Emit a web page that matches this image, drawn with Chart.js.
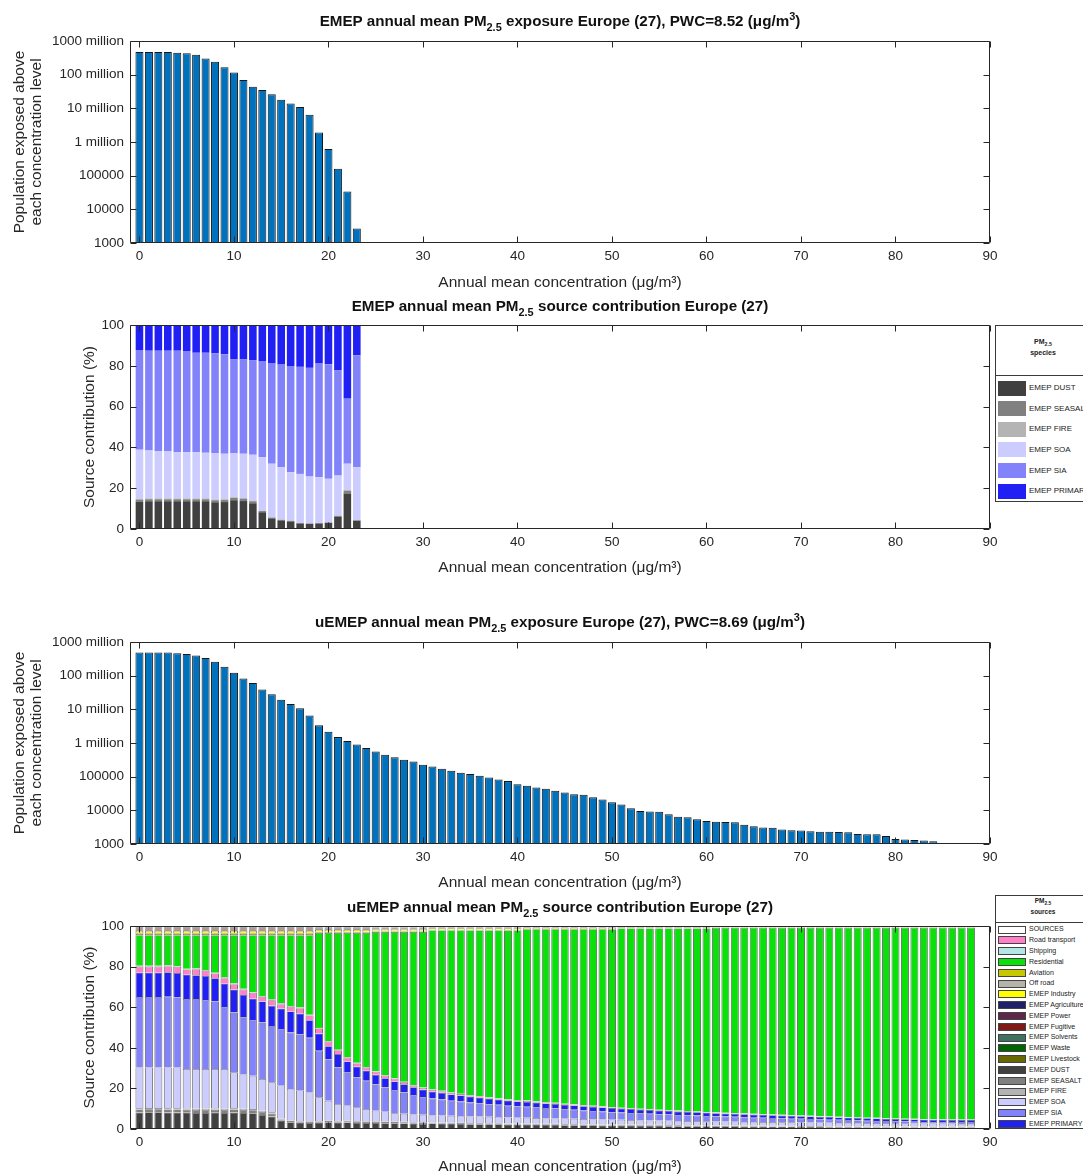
<!DOCTYPE html>
<html>
<head>
<meta charset="utf-8">
<script src="https://cdn.jsdelivr.net/npm/chart.js@4.4.0/dist/chart.umd.min.js"></script>
<style>
body { margin: 0; background: #fff; }
#page { position: relative; width: 1083px; height: 1175px; overflow: hidden; background: #fff;
        font-family: "Liberation Sans", Arial, Helvetica, sans-serif; color: #000; }
#page canvas { position: absolute; left: 0; }
.ttl { position: absolute; left: 130px; width: 860px; text-align: center; font-weight: bold;
       font-size: 15.2px; line-height: 18px; white-space: nowrap; color: #111; }
.ttl sub { font-size: 72%; vertical-align: -0.5em; line-height: 0; }
.ttl sup { font-size: 72%; vertical-align: 0.55em; line-height: 0; }
.lg { position: absolute; left: 995px; width: 96px; border: 1px solid #3a3a3a; background: #fff; box-sizing: border-box; }
.lg .hd { position: absolute; left: 0; width: 100%; text-align: center; font-weight: bold; color: #222; white-space: nowrap; }
.lg .hd sub { font-size: 75%; vertical-align: -0.4em; line-height: 0; }
.lg .dv { position: absolute; left: 0; width: 100%; border-top: 1px solid #3a3a3a; }
.lg .sw { position: absolute; left: 2px; width: 28px; box-sizing: border-box; }
.lg .tx { position: absolute; left: 33px; white-space: nowrap; color: #222; }
</style>
</head>
<body>
<div id="page">
  <canvas id="cA" width="1083" height="300" style="top:0px"></canvas>
  <canvas id="cB" width="1083" height="285" style="top:300px"></canvas>
  <canvas id="cC" width="1083" height="315" style="top:585px"></canvas>
  <canvas id="cD" width="1083" height="285" style="top:900px"></canvas>
  <div class="ttl" style="top:12px">EMEP annual mean PM<sub>2.5</sub> exposure Europe (27), PWC=8.52 (μg/m<sup>3</sup>)</div>
  <div class="ttl" style="top:297px">EMEP annual mean PM<sub>2.5</sub> source contribution Europe (27)</div>
  <div class="ttl" style="top:613px">uEMEP annual mean PM<sub>2.5</sub> exposure Europe (27), PWC=8.69 (μg/m<sup>3</sup>)</div>
  <div class="ttl" style="top:898px">uEMEP annual mean PM<sub>2.5</sub> source contribution Europe (27)</div>
  <div class="lg" id="lgB" style="top:325px;height:177px"></div>
  <div class="lg" id="lgD" style="top:895px;height:234px"></div>
</div>
<script>
// axis ticks
const xTicks = [0, 10, 20, 30, 40, 50, 60, 70, 80, 90];
const popTicks = [1e3, 1e4, 1e5, 1e6, 1e7, 1e8, 1e9];
const popTickLabels = ['1000', '10000', '100000', '1 million', '10 million', '100 million', '1000 million'];
const pctTicks = [0, 20, 40, 60, 80, 100];

// concentration bins (ug/m3)
const emepBins = [0,1,2,3,4,5,6,7,8,9,10,11,12,13,14,15,16,17,18,19,20,21,22,23];
const uemepBins = [0,1,2,3,4,5,6,7,8,9,10,11,12,13,14,15,16,17,18,19,20,21,22,23,24,25,26,27,28,29,
  30,31,32,33,34,35,36,37,38,39,40,41,42,43,44,45,46,47,48,49,50,51,52,53,54,55,56,57,58,59,
  60,61,62,63,64,65,66,67,68,69,70,71,72,73,74,75,76,77,78,79,80,81,82,83,84,85,86,87,88];

// population exposed above each level
const emepPop = [4.7e8,4.7e8,4.7e8,4.75e8,4.5e8,4.3e8,3.9e8,3.0e8,2.4e8,1.66e8,1.15e8,7.0e7,4.4e7,3.5e7,
  2.6e7,1.8e7,1.4e7,1.1e7,6.5e6,1.9e6,6.2e5,1.6e5,3.4e4,2.7e3];
const uemepPop = [4.9e8,4.9e8,4.9e8,4.9e8,4.6e8,4.4e8,4.0e8,3.35e8,2.6e8,1.85e8,
  1.23e8,8.3e7,6.1e7,3.9e7,2.8e7,1.94e7,1.44e7,1.07e7,6.6e6,3.35e6,
  2.17e6,1.5e6,1.15e6,9.1e5,7.1e5,5.6e5,4.5e5,3.8e5,3.2e5,2.8e5,
  2.27e5,2.0e5,1.73e5,1.5e5,1.3e5,1.2e5,1.07e5,9.5e4,8.3e4,7.4e4,
  6.0e4,5.4e4,4.8e4,4.4e4,3.8e4,3.4e4,3.0e4,2.9e4,2.45e4,2.1e4,
  1.74e4,1.48e4,1.15e4,9.6e3,9.2e3,9.0e3,7.6e3,6.4e3,6.2e3,5.4e3,
  4.8e3,4.6e3,4.5e3,4.4e3,3.7e3,3.35e3,3.1e3,3.06e3,2.7e3,2.55e3,
  2.5e3,2.4e3,2.33e3,2.33e3,2.28e3,2.22e3,1.99e3,1.94e3,1.94e3,1.73e3,
  1.41e3,1.35e3,1.31e3,1.26e3,1.2e3,1.07e3,1.02e3,1.02e3,1.02e3];

// EMEP species contribution (%)
const dust2 = [13.4,13.6,13.6,13.6,13.6,13.6,13.6,13.6,13.1,13.2,14.1,13.7,12.6,8.2,5.2,4.2,3.7,2.7,2.5,2.7,3.0,6.0,17.4,4.0];
const seasalt2 = [1.0,1.0,1.0,1.0,1.0,1.0,1.0,1.0,1.0,1.0,1.1,1.1,1.0,0.6,0.4,0.3,0.3,0.2,0.2,0.2,0.2,0.4,1.3,0.3];
const fire2 = [0.4,0.4,0.4,0.4,0.4,0.4,0.4,0.4,0.4,0.4,0.4,0.4,0.3,0.2,0.1,0.1,0.1,0.1,0.1,0.1,0.1,0.2,0.5,0.1];
const soa2 = [24.1,23.5,23.2,23.2,22.7,22.7,22.7,22.4,22.7,22.3,21.6,21.7,22.5,26.2,26.3,25.7,23.8,24.0,22.9,22.4,21.3,19.6,12.8,25.9];
const sia2 = [48.8,48.9,49.2,49.2,49.7,49.5,48.7,49.0,48.9,48.7,46.1,46.2,46.4,47.1,49.1,50.3,52.0,52.5,53.3,55.7,56.2,51.7,31.9,54.9];
const primary2 = [12.3,12.6,12.6,12.6,12.6,12.8,13.6,13.6,13.9,14.4,16.7,16.9,17.2,17.7,18.9,19.4,20.1,20.5,21.0,18.9,19.2,22.1,36.1,14.8];

// uEMEP source contribution (%)
const dust4 = [8.1,8.2,8.2,8.1,8.1,8.0,7.9,7.9,8.0,7.9, 8.1,7.9,7.7,6.9,6.1,4.1,3.3,3.1,2.9,3.1,
  3.3,3.1,3.2,3.0,2.9,2.9,2.8,2.8,2.7,2.6, 2.5,2.7,2.6,2.6,2.5,2.4,2.4,2.3,2.3,2.2,
  2.2,2.1,2.1,2.0,2.0,1.9,1.9,1.8,1.8,1.7, 1.7,1.6,1.6,1.5,1.5,1.5,1.4,1.4,1.3,1.3,
  1.3,1.3,1.3,1.3,1.2,1.2,1.2,1.1,1.1,1.1, 1.0,1.0,1.0,0.9,0.9,0.9,0.9,0.8,0.8,0.8,
  0.8,0.8,0.7,0.7,0.7,0.7,0.7,0.7,0.7];
const seasalt4 = [1.5,1.5,1.5,1.5,1.5,1.5,1.5,1.5,1.5,1.5, 1.5,1.5,1.5,1.5,1.5,0.6,0.6,0.6,0.6,0.6,
  0.6,0.6,0.6,0.6,0.6,0.6,0.6,0.6,0.6,0.6, 0.6,0.4,0.4,0.4,0.4,0.4,0.4,0.4,0.4,0.4,
  0.4,0.4,0.4,0.4,0.4,0.4,0.4,0.4,0.4,0.4, 0.4,0.4,0.4,0.4,0.4,0.4,0.4,0.4,0.4,0.4,
  0.4,0.3,0.3,0.3,0.3,0.3,0.3,0.3,0.3,0.3, 0.3,0.3,0.3,0.3,0.3,0.3,0.3,0.3,0.3,0.3,
  0.3,0.3,0.3,0.3,0.3,0.3,0.3,0.3,0.3];
const fire4 = [0.6,0.6,0.6,0.6,0.6,0.6,0.6,0.6,0.6,0.6, 0.6,0.6,0.6,0.6,0.6,0.3,0.3,0.3,0.3,0.3,
  0.3,0.3,0.3,0.3,0.3,0.3,0.3,0.3,0.3,0.3, 0.3,0.2,0.2,0.2,0.2,0.2,0.2,0.2,0.2,0.2,
  0.2,0.2,0.2,0.2,0.2,0.2,0.2,0.2,0.2,0.2, 0.2,0.2,0.2,0.2,0.2,0.2,0.2,0.2,0.2,0.2,
  0.2,0.2,0.2,0.2,0.2,0.2,0.2,0.2,0.2,0.2, 0.2,0.2,0.2,0.2,0.2,0.2,0.2,0.2,0.2,0.2,
  0.2,0.2,0.2,0.2,0.2,0.2,0.2,0.2,0.2];
const soa4 = [20.1,20.0,20.0,20.1,20.1,19.4,19.5,19.5,19.4,19.5, 17.7,17.0,16.4,15.6,14.8,16.3,15.5,14.9,14.2,11.6,
  9.7,8.3,7.4,6.8,6.0,5.2,4.8,4.0,3.9,3.7, 3.6,3.5,3.5,3.3,3.3,3.2,3.1,3.1,3.0,2.9,
  2.8,2.8,2.7,2.7,2.6,2.6,2.5,2.5,2.4,2.4, 2.3,2.3,2.2,2.2,2.1,2.1,2.1,2.0,2.0,2.0,
  1.9,1.9,1.9,1.8,1.8,1.8,1.7,1.8,1.7,1.7, 1.7,1.7,1.6,1.7,1.6,1.6,1.6,1.6,1.6,1.6,
  1.5,1.5,1.5,1.5,1.5,1.4,1.4,1.3,1.3];
const sia4 = [34.7,34.7,34.7,34.9,34.5,34.5,34.5,34.1,33.3,30.6, 29.5,28.0,27.5,27.9,27.7,28.0,27.8,27.8,27.0,22.9,
  20.5,18.0,16.4,14.7,14.0,13.1,12.0,11.5,10.5,9.6, 8.8,8.2,7.8,7.4,7.1,6.8,6.5,6.2,6.0,5.8,
  5.5,5.4,5.3,5.0,4.9,4.6,4.5,4.2,4.1,3.9, 3.7,3.6,3.5,3.4,3.3,3.1,3.1,2.9,2.8,2.7,
  2.6,2.5,2.4,2.4,2.3,2.1,2.1,2.0,1.9,1.8, 1.8,1.7,1.6,1.5,1.5,1.4,1.2,1.2,1.1,1.0,
  1.0,0.9,0.9,0.8,0.8,0.9,0.8,0.9,0.9];
const primary4 = [12.0,12.0,12.0,12.0,12.0,12.0,11.8,11.8,11.5,11.5, 11.3,11.0,10.5,10.3,10.0,10.0,10.4,10.1,8.6,8.5,
  6.4,6.6,5.4,5.3,4.9,4.6,4.5,4.2,4.0,3.8, 3.6,3.4,3.3,3.1,3.0,2.9,2.8,2.7,2.6,2.5,
  2.5,2.4,2.3,2.3,2.2,2.2,2.1,2.1,2.0,2.0, 2.0,1.9,1.9,1.8,1.8,1.8,1.7,1.7,1.7,1.6,
  1.6,1.6,1.5,1.5,1.5,1.5,1.4,1.4,1.4,1.4, 1.3,1.3,1.3,1.3,1.2,1.2,1.2,1.2,1.2,1.1,
  1.1,1.1,1.1,1.1,1.0,1.0,1.0,1.0,1.0];
const road4 = [3.0,3.0,3.0,3.0,3.0,2.6,2.9,2.5,2.3,2.7, 2.6,2.7,2.8,2.3,2.7,2.2,2.3,2.7,2.3,2.5,
  2.2,1.9,1.9,1.6,1.5,1.5,1.3,1.4,1.0,0.8, 0.8,0.8,0.8,0.8,0.7,0.6,0.6,0.6,0.5,0.5,
  0.5,0.5,0.4,0.5,0.4,0.4,0.4,0.4,0.4,0.4, 0.3,0.3,0.3,0.3,0.3,0.2,0.2,0.3,0.3,0.2,
  0.2,0.2,0.2,0.2,0.2,0.2,0.2,0.2,0.2,0.1, 0.1,0.1,0.1,0.1,0.1,0.1,0.1,0.1,0.1,0.1,
  0.1,0.1,0.1,0.1,0.1,0.1,0.1,0.1,0.1];
const shipping4 = [0.4,0.4,0.4,0.4,0.4,0.4,0.4,0.4,0.4,0.4, 0.4,0.4,0.4,0.4,0.4,0.4,0.4,0.4,0.4,0.3,
  0.3,0.3,0.3,0.3,0.3,0.3,0.3,0.3,0.3,0.3, 0.3,0.2,0.2,0.2,0.2,0.2,0.2,0.2,0.2,0.2,
  0.2,0.2,0.2,0.2,0.2,0.2,0.2,0.2,0.2,0.2, 0.2,0.2,0.2,0.2,0.2,0.2,0.2,0.2,0.2,0.2,
  0.2,0.2,0.2,0.2,0.2,0.2,0.2,0.2,0.2,0.2, 0.2,0.2,0.2,0.2,0.2,0.2,0.2,0.2,0.2,0.2,
  0.2,0.2,0.2,0.2,0.2,0.2,0.2,0.2,0.2];
const residential4 = [15.1,15.1,15.1,14.9,15.3,16.5,16.4,17.2,18.5,20.8, 23.8,26.4,28.1,30.0,31.7,33.6,34.9,35.6,39.2,46.7,
  53.2,57.4,61.0,63.9,66.0,68.5,70.4,71.9,73.7,75.3, 76.5,78.4,79.0,79.8,80.4,81.1,81.6,82.1,82.6,83.1,
  83.5,84.4,84.8,85.1,85.5,85.9,86.2,86.6,86.9,87.2, 87.6,88.3,88.5,88.8,89.0,89.3,89.5,89.7,89.9,90.2,
  90.4,90.9,91.1,91.2,91.4,91.6,91.8,91.9,92.1,92.3, 92.5,92.6,92.8,92.9,93.1,93.2,93.4,93.5,93.6,93.8,
  93.9,94.0,94.1,94.2,94.3,94.3,94.4,94.4,94.4];
const aviation4 = [0.5,0.5,0.5,0.5,0.5,0.5,0.5,0.5,0.5,0.5, 0.5,0.5,0.5,0.5,0.5,0.5,0.5,0.5,0.5,0.4,
  0.4,0.4,0.4,0.4,0.4,0.3,0.3,0.3,0.3,0.3, 0.3,0.2,0.2,0.2,0.2,0.2,0.2,0.2,0.2,0.2,
  0.2,0.2,0.2,0.2,0.2,0.2,0.2,0.2,0.2,0.2, 0.2,0.1,0.1,0.1,0.1,0.1,0.1,0.1,0.1,0.1,
  0.1,0.1,0.1,0.1,0.1,0.1,0.1,0.1,0.1,0.1, 0.1,0.1,0.1,0.1,0.1,0.1,0.1,0.1,0.1,0.1,
  0.1,0.1,0.1,0.1,0.1,0.1,0.1,0.1,0.1];
const offroad4 = [0.4,0.4,0.4,0.4,0.4,0.4,0.4,0.4,0.4,0.4, 0.4,0.4,0.4,0.4,0.4,0.4,0.4,0.4,0.4,0.3,
  0.3,0.3,0.3,0.3,0.3,0.3,0.3,0.3,0.3,0.3, 0.3,0.2,0.2,0.2,0.2,0.2,0.2,0.2,0.2,0.2,
  0.2,0.1,0.1,0.1,0.1,0.1,0.1,0.1,0.1,0.1, 0.1,0.1,0.1,0.1,0.1,0.1,0.1,0.1,0.1,0.1,
  0.1,0.1,0.1,0.1,0.1,0.1,0.1,0.1,0.1,0.1, 0.1,0.1,0.1,0.1,0.1,0.1,0.1,0.1,0.1,0.1,
  0.1,0.1,0.1,0.1,0.1,0.1,0.1,0.1,0.1];
const industry4 = [1.2,1.2,1.2,1.2,1.2,1.2,1.2,1.2,1.2,1.2, 1.2,1.2,1.2,1.2,1.2,1.2,1.2,1.2,1.2,0.9,
  0.9,0.9,0.9,0.9,0.9,0.8,0.8,0.8,0.8,0.8, 0.8,0.6,0.6,0.6,0.6,0.6,0.6,0.6,0.6,0.6,
  0.6,0.4,0.4,0.4,0.4,0.4,0.4,0.4,0.4,0.4, 0.4,0.3,0.3,0.3,0.3,0.3,0.3,0.3,0.3,0.3,
  0.3,0.2,0.2,0.2,0.2,0.2,0.2,0.2,0.2,0.2, 0.2,0.2,0.2,0.2,0.2,0.2,0.2,0.2,0.2,0.2,
  0.2,0.2,0.2,0.2,0.2,0.2,0.2,0.2,0.2];
const agriculture4 = [0.6,0.6,0.6,0.6,0.6,0.6,0.6,0.6,0.6,0.6, 0.6,0.6,0.6,0.6,0.6,0.6,0.6,0.6,0.6,0.5,
  0.5,0.5,0.5,0.5,0.5,0.4,0.4,0.4,0.4,0.4, 0.4,0.3,0.3,0.3,0.3,0.3,0.3,0.3,0.3,0.3,
  0.3,0.2,0.2,0.2,0.2,0.2,0.2,0.2,0.2,0.2, 0.2,0.2,0.2,0.2,0.2,0.2,0.2,0.2,0.2,0.2,
  0.2,0.1,0.1,0.1,0.1,0.1,0.1,0.1,0.1,0.1, 0.1,0.1,0.1,0.1,0.1,0.1,0.1,0.1,0.1,0.1,
  0.1,0.1,0.1,0.1,0.1,0.1,0.1,0.1,0.1];
const power4 = [0.5,0.5,0.5,0.5,0.5,0.5,0.5,0.5,0.5,0.5, 0.5,0.5,0.5,0.5,0.5,0.5,0.5,0.5,0.5,0.4,
  0.4,0.4,0.4,0.4,0.4,0.4,0.4,0.4,0.4,0.4, 0.4,0.3,0.3,0.3,0.3,0.3,0.3,0.3,0.3,0.3,
  0.3,0.2,0.2,0.2,0.2,0.2,0.2,0.2,0.2,0.2, 0.2,0.2,0.2,0.2,0.2,0.2,0.2,0.2,0.2,0.2,
  0.2,0.1,0.1,0.1,0.1,0.1,0.1,0.1,0.1,0.1, 0.1,0.1,0.1,0.1,0.1,0.1,0.1,0.1,0.1,0.1,
  0.1,0.1,0.1,0.1,0.1,0.1,0.1,0.1,0.1];
const fugitive4 = [0.3,0.3,0.3,0.3,0.3,0.3,0.3,0.3,0.3,0.3, 0.3,0.3,0.3,0.3,0.3,0.3,0.3,0.3,0.3,0.2,
  0.2,0.2,0.2,0.2,0.2,0.2,0.2,0.2,0.2,0.2, 0.2,0.1,0.1,0.1,0.1,0.1,0.1,0.1,0.1,0.1,
  0.1,0.1,0.1,0.1,0.1,0.1,0.1,0.1,0.1,0.1, 0.1,0.1,0.1,0.1,0.1,0.1,0.1,0.1,0.1,0.1,
  0.1,0.1,0.1,0.1,0.1,0.1,0.1,0.1,0.1,0.1, 0.1,0.1,0.1,0.1,0.1,0.1,0.1,0.1,0.1,0.1,
  0.1,0.1,0.1,0.1,0.1,0.1,0.1,0.1,0.1];
const solvents4 = [0.4,0.4,0.4,0.4,0.4,0.4,0.4,0.4,0.4,0.4, 0.4,0.4,0.4,0.4,0.4,0.4,0.4,0.4,0.4,0.3,
  0.3,0.3,0.3,0.3,0.3,0.3,0.3,0.3,0.3,0.3, 0.3,0.2,0.2,0.2,0.2,0.2,0.2,0.2,0.2,0.2,
  0.2,0.2,0.2,0.2,0.2,0.2,0.2,0.2,0.2,0.2, 0.2,0.1,0.1,0.1,0.1,0.1,0.1,0.1,0.1,0.1,
  0.1,0.1,0.1,0.1,0.1,0.1,0.1,0.1,0.1,0.1, 0.1,0.1,0.1,0.1,0.1,0.1,0.1,0.1,0.1,0.1,
  0.1,0.1,0.1,0.1,0.1,0.1,0.1,0.1,0.1];
const waste4 = [0.3,0.3,0.3,0.3,0.3,0.3,0.3,0.3,0.3,0.3, 0.3,0.3,0.3,0.3,0.3,0.3,0.3,0.3,0.3,0.3,
  0.3,0.3,0.3,0.3,0.3,0.2,0.2,0.2,0.2,0.2, 0.2,0.2,0.2,0.2,0.2,0.2,0.2,0.2,0.2,0.2,
  0.2,0.1,0.1,0.1,0.1,0.1,0.1,0.1,0.1,0.1, 0.1,0.05,0.05,0.05,0.05,0.05,0.05,0.05,0.05,0.05,
  0.05,0.05,0.05,0.05,0.05,0.05,0.05,0.05,0.05,0.05, 0.05,0.05,0.05,0.05,0.05,0.05,0.05,0.05,0.05,0.05,
  0.05,0.05,0.05,0.05,0.05,0.05,0.05,0.05,0.05];
const livestock4 = [0.3,0.3,0.3,0.3,0.3,0.3,0.3,0.3,0.3,0.3, 0.3,0.3,0.3,0.3,0.3,0.3,0.3,0.3,0.3,0.2,
  0.2,0.2,0.2,0.2,0.2,0.1,0.1,0.1,0.1,0.1, 0.1,0.1,0.1,0.1,0.1,0.1,0.1,0.1,0.1,0.1,
  0.1,0.1,0.1,0.1,0.1,0.1,0.1,0.1,0.1,0.1, 0.1,0.05,0.05,0.05,0.05,0.05,0.05,0.05,0.05,0.05,
  0.05,0.05,0.05,0.05,0.05,0.05,0.05,0.05,0.05,0.05, 0.05,0.05,0.05,0.05,0.05,0.05,0.05,0.05,0.05,0.05,
  0.05,0.05,0.05,0.05,0.05,0.05,0.05,0.05,0.05];

// legend names and colours
const speciesLabels = ['EMEP DUST', 'EMEP SEASALT', 'EMEP FIRE', 'EMEP SOA', 'EMEP SIA', 'EMEP PRIMARY'];
const speciesColors = ['#404040', '#808080', '#b4b4b4', '#ccccff', '#8282fa', '#2020f4'];
const sourceLabels = ['SOURCES', 'Road transport', 'Shipping', 'Residential', 'Aviation', 'Off road',
  'EMEP Industry', 'EMEP Agriculture', 'EMEP Power', 'EMEP Fugitive', 'EMEP Solvents', 'EMEP Waste',
  'EMEP Livestock', 'EMEP DUST', 'EMEP SEASALT', 'EMEP FIRE', 'EMEP SOA', 'EMEP SIA', 'EMEP PRIMARY'];
const sourceColors = ['#ffffff', '#ff80c8', '#b4e6e6', '#0ae00a', '#c8c800', '#b4b4a8',
  '#ffff00', '#202068', '#602848', '#801818', '#407060', '#006400',
  '#686800', '#404040', '#808080', '#b4b4b4', '#ccccff', '#8282fa', '#2020f4'];

const FONT = '"Liberation Sans", Arial, Helvetica, sans-serif';
const INK = '#262626';

// MATLAB style box with inward ticks on all four sides
const boxPlugin = {
  id: 'box',
  afterDatasetsDraw(chart) {
    const {ctx, chartArea: a, scales} = chart;
    const L = Math.round(a.left) + 0.5, R = Math.round(a.right) - 0.5;
    const T = Math.round(a.top) + 0.5, B = Math.round(a.bottom) - 0.5;
    ctx.save();
    ctx.strokeStyle = INK;
    ctx.lineWidth = 1;
    ctx.beginPath();
    ctx.rect(L, T, R - L, B - T);
    scales.x.ticks.forEach(t => {
      const x = Math.round(scales.x.getPixelForValue(t.value)) + 0.5;
      ctx.moveTo(x, B); ctx.lineTo(x, B - 6);
      ctx.moveTo(x, T); ctx.lineTo(x, T + 6);
    });
    scales.y.ticks.forEach(t => {
      const y = Math.round(scales.y.getPixelForValue(t.value)) + 0.5;
      ctx.moveTo(L, y); ctx.lineTo(L + 6, y);
      ctx.moveTo(R, y); ctx.lineTo(R - 6, y);
    });
    ctx.stroke();
    ctx.restore();
  }
};

function xAxis(height, titlePad) {
  return {
    type: 'linear', min: -1, max: 90, bounds: 'data', offset: false, stacked: true,
    grid: {display: false, drawTicks: false}, border: {display: false},
    afterBuildTicks: s => { s.ticks = xTicks.map(v => ({value: v})); },
    afterFit: s => { s.height = height; },
    ticks: {padding: 5, autoSkip: false, maxRotation: 0, color: INK, font: {family: FONT, size: 13.5}},
    title: {display: true, text: 'Annual mean concentration (μg/m³)', color: INK,
            font: {family: FONT, size: 15.5, lineHeight: 1.2}, padding: {top: 0, bottom: titlePad}}
  };
}

function popAxis() {
  return {
    type: 'logarithmic', min: 1e3, max: 1e9,
    grid: {display: false, drawTicks: false}, border: {display: false},
    afterBuildTicks: s => { s.ticks = popTicks.map(v => ({value: v})); },
    afterFit: s => { s.width = 130; },
    ticks: {padding: 6, autoSkip: false, color: INK, font: {family: FONT, size: 13.5},
            callback: v => popTickLabels[popTicks.indexOf(v)]},
    title: {display: true, text: ['Population exposed above', 'each concentration level'], color: INK,
            font: {family: FONT, size: 15.5, lineHeight: 1.1}, padding: {top: 11.5, bottom: 0}}
  };
}

function pctAxis() {
  return {
    type: 'linear', min: 0, max: 100, bounds: 'data', stacked: true,
    grid: {display: false, drawTicks: false}, border: {display: false},
    afterBuildTicks: s => { s.ticks = pctTicks.map(v => ({value: v})); },
    afterFit: s => { s.width = 130; },
    ticks: {padding: 6, autoSkip: false, color: INK, font: {family: FONT, size: 13.5}},
    title: {display: true, text: 'Source contribution (%)', color: INK,
            font: {family: FONT, size: 15.5, lineHeight: 1.2}, padding: {top: 80.7, bottom: 0}}
  };
}

function points(bins, vals) {
  return bins.map((b, i) => ({x: b, y: vals[i]}));
}

function baseOptions(padTop, xA, yA) {
  return {
    responsive: false, animation: false,
    layout: {padding: {top: padTop, right: 93, left: 0, bottom: 0}},
    plugins: {legend: {display: false}, tooltip: {enabled: false}},
    scales: {x: xA, y: yA}
  };
}

// population exposure charts
new Chart(document.getElementById('cA'), {
  type: 'bar',
  data: {datasets: [{data: points(emepBins, emepPop), backgroundColor: '#0072bd',
    borderColor: '#161616', borderWidth: 1, barPercentage: 0.85, categoryPercentage: 1}]},
  options: baseOptions(41, xAxis(57, 7.7), popAxis()),
  plugins: [boxPlugin]
});

new Chart(document.getElementById('cC'), {
  type: 'bar',
  data: {datasets: [{data: points(uemepBins, uemepPop), backgroundColor: '#0072bd',
    borderColor: '#161616', borderWidth: 1, barPercentage: 0.85, categoryPercentage: 1}]},
  options: baseOptions(57, xAxis(56, 7.7), popAxis()),
  plugins: [boxPlugin]
});

// EMEP species stack
const speciesData = [dust2, seasalt2, fire2, soa2, sia2, primary2];
new Chart(document.getElementById('cB'), {
  type: 'bar',
  data: {datasets: speciesData.map((d, i) => ({
    label: speciesLabels[i], data: points(emepBins, d), backgroundColor: speciesColors[i],
    borderWidth: 0, barPercentage: 0.8, categoryPercentage: 1
  }))},
  options: baseOptions(25, xAxis(56, 7.7), pctAxis()),
  plugins: [boxPlugin]
});

// uEMEP source stack, bottom to top
const stackOrder = [
  ['EMEP DUST', dust4], ['EMEP SEASALT', seasalt4], ['EMEP FIRE', fire4], ['EMEP SOA', soa4],
  ['EMEP SIA', sia4], ['EMEP PRIMARY', primary4], ['Road transport', road4], ['Shipping', shipping4],
  ['Residential', residential4], ['Aviation', aviation4], ['Off road', offroad4],
  ['EMEP Industry', industry4], ['EMEP Agriculture', agriculture4], ['EMEP Power', power4],
  ['EMEP Fugitive', fugitive4], ['EMEP Solvents', solvents4], ['EMEP Waste', waste4],
  ['EMEP Livestock', livestock4]
];
new Chart(document.getElementById('cD'), {
  type: 'bar',
  data: {datasets: stackOrder.map(([name, d]) => ({
    label: name, data: points(uemepBins, d),
    backgroundColor: sourceColors[sourceLabels.indexOf(name)],
    borderColor: '#707070', borderWidth: {top: 0.6, left: 1, right: 1, bottom: 0},
    barPercentage: 0.85, categoryPercentage: 1
  }))},
  options: baseOptions(26, xAxis(56, 8.7), pctAxis()),
  plugins: [boxPlugin]
});

// legends
function buildLegend(id, word, labels, colors, g) {
  const el = document.getElementById(id);
  let html = '<div class="hd" style="top:' + g.h1 + 'px;font-size:' + g.hf + 'px">PM<sub>2.5</sub></div>' +
             '<div class="hd" style="top:' + g.h2 + 'px;font-size:' + g.hf + 'px">' + word + '</div>' +
             '<div class="dv" style="top:' + g.div + 'px"></div>';
  labels.forEach((lab, i) => {
    const cy = g.first + i * g.step;
    html += '<div class="sw" style="top:' + (cy - g.sh / 2) + 'px;height:' + g.sh + 'px;background:' + colors[i] +
            ';border:' + g.sb + '"></div>' +
            '<div class="tx" style="top:' + (cy - g.fs * 0.6) + 'px;font-size:' + g.fs + 'px;line-height:' +
            (g.fs * 1.2) + 'px">' + lab + '</div>';
  });
  el.innerHTML = html;
}
buildLegend('lgB', 'species', speciesLabels, speciesColors,
  {h1: 12, h2: 23, hf: 7, div: 49, first: 62, step: 20.6, sh: 15, sb: 'none', fs: 8});
buildLegend('lgD', 'sources', sourceLabels, sourceColors,
  {h1: 1, h2: 12, hf: 6.5, div: 26, first: 33.5, step: 10.8, sh: 8, sb: '1px solid #444', fs: 7});
</script>
</body>
</html>
